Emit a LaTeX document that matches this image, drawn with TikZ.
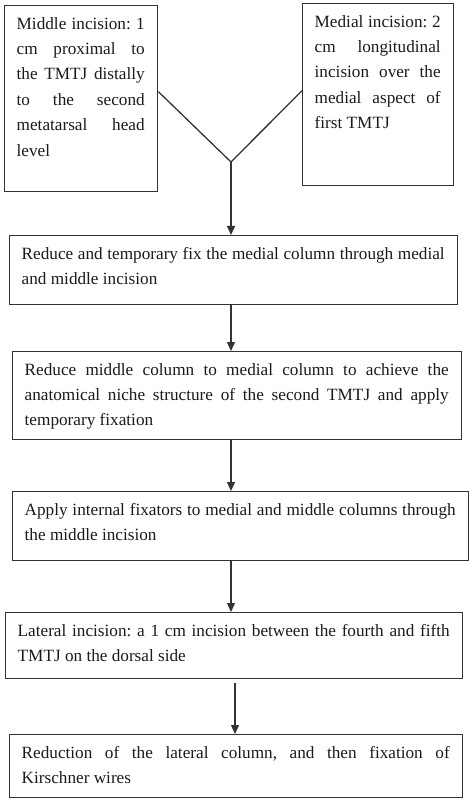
\documentclass[tikz,border=0pt]{standalone}
\usepackage{fontspec}
\setmainfont{Liberation Serif}
\usepackage{tikz}
\usetikzlibrary{arrows.meta, calc}
\definecolor{frameGray}{HTML}{333333}
\definecolor{inkBlack}{HTML}{1A1A1A}
\frenchspacing
\newcommand{\FlowBox}[6]{
    \pgfmathsetmacro{\flowTextWidth}{#4-25}
    \node[flowFrame, minimum width=#4, minimum height=#5] (#1) at (#2,#3) {};
    \node[flowText, text width=\flowTextWidth pt] (#1Text) at (#1.north west) {#6};
}
\tikzset{
    % Boxes
    flowFrame/.style={rectangle, draw=frameGray, line width=1.4pt, anchor=north west, inner sep=0pt},
    flowText/.style={anchor=north west, inner xsep=12.5pt, inner ysep=12pt, align=justify, text=inkBlack,
        font={\fontsize{17.2}{25.4}\selectfont\hyphenpenalty=10000\tolerance=9000}},
    % Connectors
    flowLine/.style={draw=frameGray, line width=1.3pt},
    flowArrow/.style={->, >={Triangle[length=9pt,width=8pt]}, draw=frameGray, line width=1.3pt}
}
\begin{document}
\begin{tikzpicture}[x=1pt, y=-1pt]
    \useasboundingbox (0,0) rectangle (474,802);
    \FlowBox{midInc}{4}{5}{153}{186}{Middle incision: 1\linebreak cm proximal to\linebreak the TMTJ distally\linebreak to the second\linebreak metatarsal head\linebreak level}
    \FlowBox{medInc}{302}{3}{151}{182}{Medial incision: 2\linebreak cm longitudinal\linebreak incision over the\linebreak medial aspect of\linebreak first TMTJ}
    \FlowBox{medialFix}{9}{235}{448}{69}{Reduce and temporary fix the medial column through medial\linebreak and middle incision}
    \FlowBox{middleFix}{12}{351}{449}{88}{Reduce middle column to medial column to achieve the\linebreak anatomical niche structure of the second TMTJ and apply\linebreak temporary fixation}
    \FlowBox{internalFix}{12}{491}{456}{69}{Apply internal fixators to medial and middle columns through\linebreak the middle incision}
    \FlowBox{lateralInc}{5}{612}{457}{66}{Lateral incision: a 1 cm incision between the fourth and fifth\linebreak TMTJ on the dorsal side}
    \FlowBox{lateralFix}{9}{734}{453}{63}{Reduction of the lateral column, and then fixation of\linebreak Kirschner wires}

    \coordinate (junction) at (231,162);
    \draw[flowLine] ([yshift=7pt]midInc.east) -- (junction);
    \draw[flowLine] ([yshift=4pt]medInc.west) -- (junction);
    \draw[flowArrow] (junction) -- (medialFix.north -| junction);
    \draw[flowArrow] (medialFix.south -| junction) -- (middleFix.north -| junction);
    \draw[flowArrow] (middleFix.south -| junction) -- (internalFix.north -| junction);
    \draw[flowArrow] (internalFix.south -| junction) -- (lateralInc.north -| junction);
    \draw[flowArrow] ($(lateralInc.south -| junction)+(4,4)$) -- ($(lateralFix.north -| junction)+(4,0)$);
\end{tikzpicture}
\end{document}
